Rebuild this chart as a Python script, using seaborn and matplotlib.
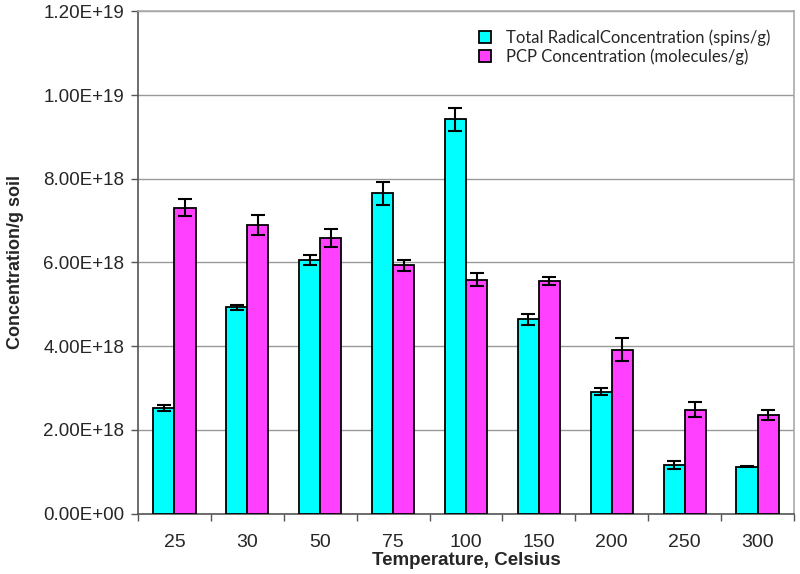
import pandas as pd
import seaborn as sns
import matplotlib.pyplot as plt
from matplotlib.ticker import FuncFormatter, FixedLocator

# data
temps = ["25", "30", "50", "75", "100", "150", "200", "250", "300"]
radical = [2.52e18, 4.93e18, 6.05e18, 7.65e18, 9.42e18, 4.64e18, 2.91e18, 1.16e18, 1.12e18]
radical_err = [0.07e18, 0.06e18, 0.12e18, 0.28e18, 0.28e18, 0.13e18, 0.08e18, 0.09e18, 0.02e18]
pcp = [7.31e18, 6.90e18, 6.58e18, 5.93e18, 5.59e18, 5.55e18, 3.92e18, 2.48e18, 2.36e18]
pcp_err = [0.20e18, 0.24e18, 0.21e18, 0.14e18, 0.16e18, 0.10e18, 0.27e18, 0.18e18, 0.12e18]
series = ["Total RadicalConcentration (spins/g)", "PCP Concentration (molecules/g)"]

df = pd.DataFrame({
    "Temperature": temps * 2,
    "Concentration": radical + pcp,
    "Series": [series[0]] * len(temps) + [series[1]] * len(temps),
})

sns.set_style("white")
plt.rcParams['font.family'] = ['Liberation Sans', 'DejaVu Sans']

fig = plt.figure(figsize=(8, 5.74), dpi=100)
ax = fig.add_axes([0.1725, 0.1054, 0.82, 0.8746])

sns.barplot(data=df, x="Temperature", y="Concentration", hue="Series",
            palette=["#00FFFF", "#FF40FF"], saturation=1, width=0.58, errorbar=None,
            edgecolor="black", linewidth=1.3, ax=ax, zorder=3)

# error bars at the bar centres
for cont, errs in zip(ax.containers, [radical_err, pcp_err]):
    xs = [p.get_x() + p.get_width() / 2 for p in cont.patches]
    ys = [p.get_height() for p in cont.patches]
    ax.errorbar(xs, ys, yerr=errs, fmt="none", ecolor="black",
                elinewidth=1.5, capsize=5, capthick=1.5, zorder=4)

ax.set_ylim(0, 1.2e19)
ax.set_xlim(-0.5, len(temps) - 0.5)
ax.set_yticks([i * 2e18 for i in range(7)])
ax.yaxis.set_major_formatter(FuncFormatter(lambda v, p: "%.2E" % v))
ax.grid(axis="y", color="#999999", linewidth=1, zorder=0)
ax.set_axisbelow(True)

ax.xaxis.set_minor_locator(FixedLocator([i + 0.5 for i in range(-1, len(temps))]))
ax.tick_params(axis="x", which="major", length=0, labelsize=14, pad=14.5)
ax.tick_params(axis="x", which="minor", length=5, width=1, color="#555555", direction="out", bottom=True)
ax.tick_params(axis="y", length=5, width=1, color="#555555", direction="out", left=True, labelsize=13.5, pad=5)

for s in ["left", "bottom"]:
    ax.spines[s].set_color("#555555")
    ax.spines[s].set_linewidth(1.2)
for s in ["top", "right"]:
    ax.spines[s].set_color("#aaaaaa")
    ax.spines[s].set_linewidth(1.2)

ax.set_xlabel("Temperature, Celsius", fontsize=13.5, fontweight="bold", labelpad=1)
ax.set_ylabel("Concentration/g soil", fontsize=13, fontweight="bold", labelpad=14)

leg = ax.legend(loc="upper left", bbox_to_anchor=(0.497, 0.994), frameon=False,
                handlelength=0.7, handleheight=0.7,
                handletextpad=0.9, labelspacing=0.12, title=None,
                prop={"family": ["Lato", "DejaVu Sans"], "size": 12})

fig.savefig("out.png", dpi=100)
